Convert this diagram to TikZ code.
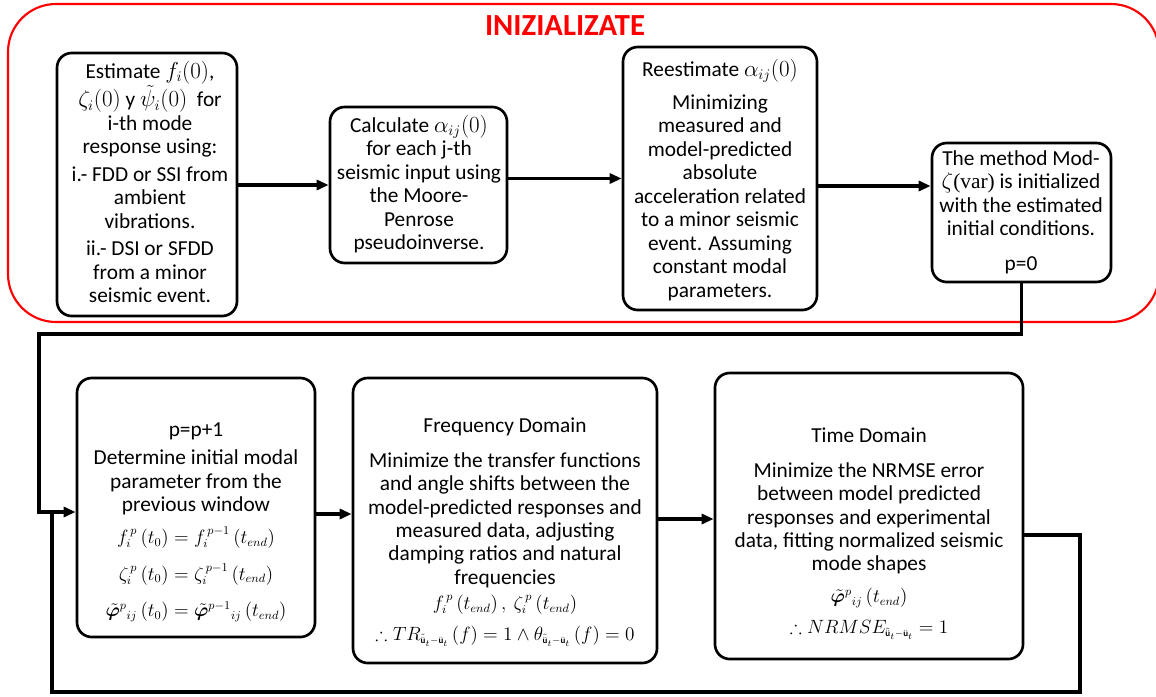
\documentclass[tikz,border=0pt]{standalone}
\usepackage{amsmath,amssymb,bm}
\usepackage{fontspec}
\setmainfont{Carlito}
\newfontfamily\tmsfont{Liberation Serif}
\usetikzlibrary{arrows.meta}
\tikzset{
  box/.style={draw, line width=2pt, rounded corners=11pt, fill=white, inner sep=0pt},
  txt/.style={align=center, inner sep=0pt, anchor=north, font=\fontsize{16}{17.6}\selectfont},
  conn/.style={line width=2.4pt},
  arr/.style={line width=2.4pt, -{Triangle[length=9pt,width=7.5pt]}},
  ttl/.style={text=red, font=\fontsize{23}{26}\selectfont\bfseries}
}
\newcommand{\uu}{{\scriptscriptstyle\tilde{\ddot{\mathbf u}}_t-\ddot{\mathbf u}_t}}
\newcommand{\vphi}{\tilde{\bm{\varphi}}}
\newcommand{\fm}[1]{{\fontsize{13.5}{15}\selectfont #1}}
\begin{document}
\begin{tikzpicture}[x=0.75pt,y=-0.75pt]
\useasboundingbox (0,0) rectangle (1156,696);
\draw[red, line width=1.6pt, rounded corners=36pt] (8,4) rectangle (1159,322);
\node[ttl] (title) at (565,26) {INIZIALIZATE};

% boxes
\node[box, minimum width=135pt, minimum height=197.25pt] (b1) at (147,184.5) {};
\node[box, minimum width=132.75pt, minimum height=117pt] (b2) at (418.5,185) {};
\node[box, minimum width=145.5pt, minimum height=197.25pt] (b3) at (720,178.5) {};
\node[box, minimum width=134.25pt, minimum height=104.25pt] (b4) at (1021.5,212.5) {};
\node[box, minimum width=178.5pt, minimum height=194.25pt] (b5) at (196,507.5) {};
\node[box, minimum width=228pt, minimum height=213.75pt] (b6) at (505,520.5) {};
\node[box, minimum width=231pt, minimum height=214.5pt] (b7) at (869,516) {};

% texts
\node[txt] (t1) at (150,61) {Estimate $f_i(0)$,\\ $\zeta_i(0)$ y $\tilde{\psi}_i(0)$\ \ for\\ i-th mode\\ response using:\\[3pt] i.- FDD or SSI from\\ ambient\\ vibrations.\\[3pt] ii.- DSI or SFDD\\ from a minor\\ seismic event.};
\node[txt] (t2) at (419,115) {Calculate $\alpha_{ij}(0)$\\ for each j-th\\ seismic input using\\ the Moore-\\ Penrose\\ pseudoinverse.};
\node[txt] (t3) at (720,59) {Reestimate $\alpha_{ij}(0)$\\[7pt] Minimizing\\ measured and\\ model-predicted\\ absolute\\ acceleration related\\ to a minor seismic\\ event. Assuming\\ constant modal\\ parameters.};
\node[txt] (t4) at (1021,150) {The method Mod-\\ {\tmsfont$\zeta$(var)} is initialized\\ with the estimated\\ initial conditions.\\[9pt] p=0};
\node[txt] (t5) at (196,422) {p=p+1\\[4pt] Determine initial modal\\ parameter from the\\ previous window\\[6pt]
  \fm{$f_i^{\,p}\left(t_0\right)=f_i^{\,p-1}\left(t_{end}\right)$}\\[10pt]
  \fm{$\zeta_i^{\,p}\left(t_0\right)=\zeta_i^{\,p-1}\left(t_{end}\right)$}\\[10pt]
  \fm{${\vphi}^{p}{}_{ij}\left(t_0\right)={\vphi}^{p-1}{}_{ij}\left(t_{end}\right)$}};
\node[txt] (t6) at (505,418) {Frequency Domain\\[8pt] Minimize the transfer functions\\ and angle shifts between the\\ model-predicted responses and\\ measured data, adjusting\\ damping ratios and natural\\ frequencies\\[1pt]
  \fm{$f_i^{\,p}\left(t_{end}\right),\ \zeta_i^{\,p}\left(t_{end}\right)$}\\[6pt]
  \fm{$\therefore TR_{\uu}\left(f\right)=1\wedge\theta_{\uu}\left(f\right)=0$}};
\node[txt] (t7) at (869,428) {Time Domain\\[8pt] Minimize the NRMSE error\\ between model predicted\\ responses and experimental\\ data, fitting normalized seismic\\ mode shapes\\[6pt]
  \fm{${\vphi}^{p}{}_{ij}\left(t_{end}\right)$}\\[6pt]
  \fm{$\therefore NRMSE_{\uu}=1$}};

% connectors
\draw[arr] (b1.east |- b2.west) -- (b2.west);
\draw[arr] (b2.east |- b3.west) -- (b3.west);
\draw[arr] (b3.east |- 0,186) -- (b4.west |- 0,186);
\coordinate (c1) at (1021.5,334);
\coordinate (c2) at (39,334);
\coordinate (c3) at (39,512);
\draw[arr] (b4.south) -- (c1) -- (c2) -- (c3) -- (b5.west |- c3);
\draw[arr] (b5.east |- 0,514) -- (b6.west |- 0,514);
\draw[arr] (b6.east |- 0,519) -- (b7.west |- 0,519);
\coordinate (d1) at (1080,535);
\coordinate (d2) at (1080,692);
\coordinate (d3) at (52,692);
\coordinate (d4) at (52,512);
\draw[conn] (b7.east |- d1) -- (d1) -- (d2) -- (d3) -- (d4);
\end{tikzpicture}
\end{document}
